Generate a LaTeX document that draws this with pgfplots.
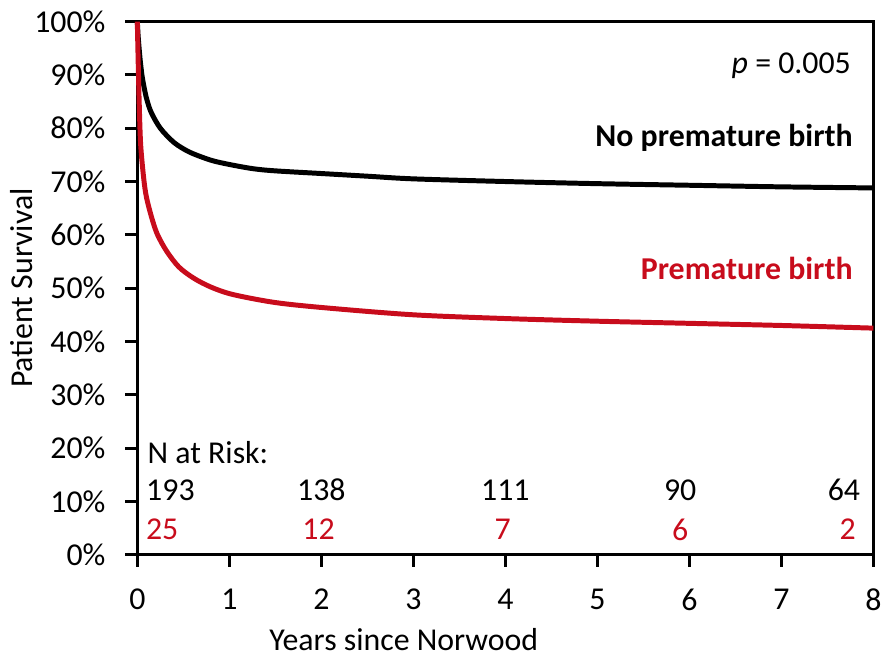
\documentclass[border=0pt]{standalone}
\usepackage{fontspec}
\setmainfont{Carlito}
\usepackage{pgfplots}
\pgfplotsset{compat=1.18}
\definecolor{pbred}{RGB}{200,12,28}
\pgfplotstableread{
x y label
0.36 12.1 193
2.00 12.1 138
4.00 12.1 111
5.90 12.1 90
7.68 12.1 64
}\riskno
\pgfplotstableread{
x y label
0.27 4.7 25
1.97 4.7 12
3.97 4.7 7
5.90 4.7 6
7.72 4.7 2
}\riskpre
\begin{document}
\fontsize{16}{19}\selectfont
\begin{tikzpicture}
\begin{axis}[
  scale only axis, width=370pt, height=268pt,
  xmin=0, xmax=8, ymin=0, ymax=100,
  xtick={0,1,2,3,4,5,6,7,8},
  xticklabels={0,1,2,3,4,5,6,7,8},
  ytick={0,10,20,30,40,50,60,70,80,90,100},
  yticklabels={0\%,10\%,20\%,30\%,40\%,50\%,60\%,70\%,80\%,90\%,100\%},
  tick align=outside, xtick pos=bottom, ytick pos=left,
  major tick length=6pt,
  every tick/.style={black, line width=1.5pt},
  axis line style={line width=1.5pt},
  tick label style={font=\fontsize{16}{19}\selectfont},
  xticklabel style={yshift=-5.5pt},
  yticklabel style={xshift=-4.5pt},
  label style={font=\fontsize{16}{19}\selectfont},
  xlabel={Years since Norwood},
  ylabel={Patient Survival},
  xlabel style={at={(axis description cs:0.362,-0.160)}, anchor=center},
  ylabel style={at={(axis description cs:-0.157,0.5)}, anchor=center},
  clip=false,
]
\addplot[black, line width=2.5pt, smooth, line join=round] coordinates {
(0,100) (0.01,97) (0.03,93) (0.05,90) (0.07,88) (0.1,85.6) (0.15,83) (0.25,80)
(0.4,77.3) (0.57,75.5) (0.8,74) (1,73.2) (1.26,72.4) (1.5,72) (2,71.5)
(2.5,71) (3,70.5) (4,70) (5,69.6) (6,69.3) (7,69) (8,68.8)};
\addplot[pbred, line width=2.5pt, smooth, line join=round] coordinates {
(0,100) (0.01,92) (0.02,85) (0.036,77) (0.07,70.5) (0.1,67) (0.16,63)
(0.22,60) (0.32,56.9) (0.45,54) (0.61,51.9) (0.8,50.2) (1.04,48.8)
(1.5,47.3) (2.05,46.3) (3,45) (4,44.3) (5,43.8) (6,43.4) (7,43) (8,42.5)};
\addplot[draw=none, mark=none, nodes near coords, point meta=explicit symbolic,
  every node near coord/.append style={anchor=center, inner sep=0pt, black}]
  table[x=x, y=y, meta=label] {\riskno};
\addplot[draw=none, mark=none, nodes near coords, point meta=explicit symbolic,
  every node near coord/.append style={anchor=center, inner sep=0pt, text=pbred}]
  table[x=x, y=y, meta=label] {\riskpre};
\node[anchor=east, inner sep=0pt] at (axis cs:7.76,91.8) {\textit{p} = 0.005};
\node[anchor=east, inner sep=0pt, font=\bfseries] at (axis cs:7.78,78.2) {No premature birth};
\node[anchor=east, inner sep=0pt, font=\bfseries, text=pbred] at (axis cs:7.78,53.7) {Premature birth};
\node[anchor=west, inner sep=0pt] at (axis cs:0.108,19.2) {N at Risk:};
\end{axis}
\end{tikzpicture}
\end{document}
